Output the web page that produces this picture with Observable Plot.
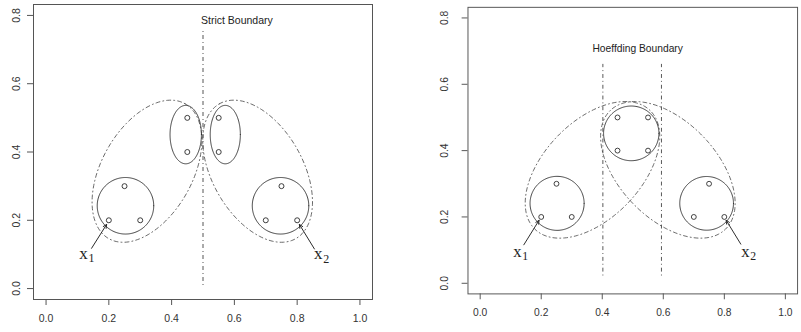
<!DOCTYPE html>
<html>
<head>
<meta charset="utf-8">
<script src="https://cdn.jsdelivr.net/npm/d3@7"></script>
<script src="https://cdn.jsdelivr.net/npm/@observablehq/plot@0.6"></script>
<style>
  html, body { margin: 0; padding: 0; background: #fff; }
  #wrap { position: relative; width: 801px; height: 332px; overflow: hidden; background: #fff; }
  #left, #right { position: absolute; top: 0; }
  #left { left: 0; }
  #right { left: 400px; }
</style>
</head>
<body>
<div id="wrap"><div id="left"></div><div id="right"></div></div>
<script>
// ---- shared axes ----
const xTicks = [0, 0.2, 0.4, 0.6, 0.8, 1.0];
const yTicks = [0, 0.2, 0.4, 0.6, 0.8];

// ---- data points (same in both panels) ----
const pointX = [0.25, 0.2, 0.3, 0.45, 0.45, 0.55, 0.55, 0.75, 0.7, 0.8];
const pointY = [0.3, 0.2, 0.2, 0.5, 0.4, 0.5, 0.4, 0.3, 0.2, 0.2];

// ---- left panel: Strict Boundary ----
const strictTitle = "Strict Boundary";
const strictTitleX = [0.608];
const strictTitleY = [0.784];
const strictBoundX = [0.5];
const strictBoundY1 = [0.009];
const strictBoundY2 = [0.758];
const strictSolidCx = [0.253, 0.747, 0.445, 0.571];
const strictSolidCy = [0.2425, 0.2425, 0.451, 0.451];
const strictSolidRx = [0.09, 0.09, 0.050, 0.048];
const strictSolidRy = [0.09, 0.09, 0.093, 0.093];
const strictDashCx = [0.3215, 0.674];
const strictDashCy = [0.3437, 0.3437];
const strictDashA = [0.2467, 0.2467];
const strictDashB = [0.1445, 0.1445];
const strictDashAngle = [60.5, 119.5];
const strictArrowX1 = [0.145, 0.855];
const strictArrowY1 = [0.118, 0.116];
const strictArrowX2 = [0.193, 0.807];
const strictArrowY2 = [0.188, 0.188];
const strictLabelX = [0.119, 0.867];
const strictLabelY = [0.104, 0.102];
const labelSubs = ["1", "2"];

// ---- right panel: Hoeffding Boundary ----
const hoeffTitle = "Hoeffding Boundary";
const hoeffTitleX = [0.516];
const hoeffTitleY = [0.708];
const hoeffBoundX = [0.402, 0.594];
const hoeffBoundY1 = [0.022, 0.022];
const hoeffBoundY2 = [0.66, 0.66];
const hoeffSolidCx = [0.252, 0.495, 0.742];
const hoeffSolidCy = [0.241, 0.452, 0.241];
const hoeffSolidRx = [0.0886, 0.0907, 0.088];
const hoeffSolidRy = [0.0885, 0.0896, 0.088];
const hoeffDashCx = [0.368, 0.615];
const hoeffDashCy = [0.342, 0.342];
const hoeffDashA = [0.271, 0.271];
const hoeffDashB = [0.159, 0.159];
const hoeffDashAngle = [45.9, 134.1];
const hoeffArrowX1 = [0.143, 0.854];
const hoeffArrowY1 = [0.116, 0.118];
const hoeffArrowX2 = [0.193, 0.806];
const hoeffArrowY2 = [0.19, 0.19];
const hoeffLabelX = [0.122, 0.869];
const hoeffLabelY = [0.096, 0.096];

// ---- helpers ----
const ASPECT = 0.92; // y-pixel / x-pixel unit ratio of the plotting region
function ellipseOutline(cx, cy, rx, ry, angle) {
  const out = [];
  cx.forEach((c, k) => {
    const th = (angle ? angle[k] : 0) * Math.PI / 180;
    for (let i = 0; i <= 180; i++) {
      const t = i / 180 * 2 * Math.PI;
      const u = rx[k] * Math.cos(t), v = ry[k] * Math.sin(t);
      out.push({id: k, x: c + u * Math.cos(th) - v * Math.sin(th),
                y: cy[k] + (u * Math.sin(th) + v * Math.cos(th)) * ASPECT});
    }
  });
  return out;
}
const zip = (...arrs) => arrs[0].map((_, i) => arrs.map(a => a[i]));
const points = zip(pointX, pointY);
const fmt = d3.format(".1f");
const INK = "#2a2a2a";
const DASH = "1,3,4,3";

function panel(o) {
  const solid = ellipseOutline(o.solidCx, o.solidCy, o.solidRx, o.solidRy, null);
  const dashed = ellipseOutline(o.dashCx, o.dashCy, o.dashA, o.dashB, o.dashAngle);
  const bounds = zip(o.boundX, o.boundY1, o.boundY2);
  const arrows = zip(o.arrowX1, o.arrowY1, o.arrowX2, o.arrowY2);
  const labels = zip(o.labelX, o.labelY, labelSubs);
  return Plot.plot({
    width: o.width, height: 332,
    marginLeft: o.ml, marginRight: o.mr, marginTop: o.mt, marginBottom: o.mb,
    x: {domain: [-0.04, 1.04]},
    y: {domain: [-0.032, 0.832]},
    style: {fontFamily: "'Liberation Sans', Arial, sans-serif", fontSize: "10.5px", color: "#333", background: "white"},
    marks: [
      Plot.frame({stroke: "#555", strokeWidth: 1}),
      Plot.axisX({ticks: xTicks, tickSize: 6, tickPadding: 9, tickFormat: fmt, label: null, stroke: "#555", fill: "#333"}),
      Plot.axisY({ticks: yTicks, tickSize: 6, tickPadding: o.ytp, tickRotate: -90, textAnchor: "middle", tickFormat: fmt, label: null, stroke: "#555", fill: "#333"}),
      Plot.ruleX(bounds, {x: d => d[0], y1: d => d[1], y2: d => d[2], stroke: INK, strokeWidth: 0.8, strokeDasharray: DASH}),
      Plot.line(dashed, {x: "x", y: "y", z: "id", stroke: "#444", strokeWidth: 0.8, strokeDasharray: DASH}),
      Plot.line(solid, {x: "x", y: "y", z: "id", stroke: INK, strokeWidth: 0.9}),
      Plot.dot(points, {x: d => d[0], y: d => d[1], r: 2.5, stroke: INK, strokeWidth: 0.9, fill: "white"}),
      Plot.arrow(arrows, {x1: d => d[0], y1: d => d[1], x2: d => d[2], y2: d => d[3], stroke: INK, strokeWidth: 1, headLength: 6, headAngle: 50}),
      Plot.text([o.title], {x: () => o.titleX[0], y: () => o.titleY[0], text: d => d, fontSize: 10.5, fill: "#222"}),
      Plot.text(labels, {x: d => d[0], y: d => d[1], text: () => "x", fontFamily: "'Liberation Serif', 'Times New Roman', serif", fontSize: 17, fill: "#222"}),
      Plot.text(labels, {x: d => d[0], y: d => d[1], text: d => d[2], dx: 8, dy: 5, fontFamily: "'Liberation Serif', 'Times New Roman', serif", fontSize: 12, fill: "#222"})
    ]
  });
}

document.getElementById("left").append(panel({
  width: 400, ml: 33, mr: 28, mt: 4, mb: 33, ytp: 8,
  title: strictTitle, titleX: strictTitleX, titleY: strictTitleY,
  boundX: strictBoundX, boundY1: strictBoundY1, boundY2: strictBoundY2,
  solidCx: strictSolidCx, solidCy: strictSolidCy, solidRx: strictSolidRx, solidRy: strictSolidRy,
  dashCx: strictDashCx, dashCy: strictDashCy, dashA: strictDashA, dashB: strictDashB, dashAngle: strictDashAngle,
  arrowX1: strictArrowX1, arrowY1: strictArrowY1, arrowX2: strictArrowX2, arrowY2: strictArrowY2,
  labelX: strictLabelX, labelY: strictLabelY
}));
document.getElementById("right").append(panel({
  width: 410, ml: 69, mr: 4, mt: 7, mb: 32, ytp: 14,
  title: hoeffTitle, titleX: hoeffTitleX, titleY: hoeffTitleY,
  boundX: hoeffBoundX, boundY1: hoeffBoundY1, boundY2: hoeffBoundY2,
  solidCx: hoeffSolidCx, solidCy: hoeffSolidCy, solidRx: hoeffSolidRx, solidRy: hoeffSolidRy,
  dashCx: hoeffDashCx, dashCy: hoeffDashCy, dashA: hoeffDashA, dashB: hoeffDashB, dashAngle: hoeffDashAngle,
  arrowX1: hoeffArrowX1, arrowY1: hoeffArrowY1, arrowX2: hoeffArrowX2, arrowY2: hoeffArrowY2,
  labelX: hoeffLabelX, labelY: hoeffLabelY
}));
</script>
</body>
</html>
